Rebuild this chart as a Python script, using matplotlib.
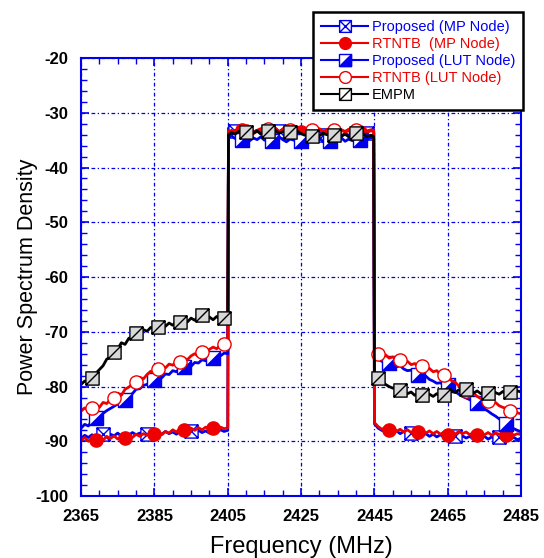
import numpy as np
import matplotlib.pyplot as plt
from matplotlib.path import Path
from matplotlib.lines import Line2D

plt.rcParams['font.family'] = 'Liberation Sans'
plt.rcParams['axes.unicode_minus'] = False

# frequency grid (MHz): lower band, in-band, upper band
f_low = np.arange(2365, 2406)
f_in = np.concatenate([[2405.2], np.arange(2406, 2445), [2444.8]])
f_up = np.arange(2445, 2486)
freq = np.concatenate([f_low, f_in, f_up])

# ---------- PSD traces (dB) ----------
empm_low = [-79.6, -79.0, -79.2, -78.4, -77.6, -76.9, -76.2, -75.0, -74.6, -73.6,
            -73.1, -72.0, -72.3, -71.2, -70.9, -70.3, -70.6, -69.6, -69.9, -69.2,
            -69.5, -69.1, -68.7, -69.0, -68.4, -68.8, -68.1, -68.3, -67.7, -68.2,
            -67.5, -67.9, -67.2, -67.0, -67.6, -67.3, -67.8, -67.2, -67.7, -67.4, -67.6]
empm_in = [-34.0, -33.6, -33.9, -33.4, -33.8, -33.5, -34.0, -33.7, -33.3, -33.9,
           -33.6, -33.4, -33.8, -33.2, -33.7, -33.5, -33.1, -33.6, -33.9, -33.4,
           -33.8, -34.1, -33.6, -34.3, -33.9, -34.2, -33.7, -34.0, -33.6, -34.1,
           -33.8, -34.3, -33.9, -34.4, -34.0, -33.7, -34.2, -33.9, -34.4, -34.1, -34.3]
empm_up = [-78.0, -78.4, -79.1, -79.6, -80.0, -80.3, -80.1, -80.6, -80.9, -81.3,
           -81.0, -81.6, -81.2, -81.5, -81.9, -81.4, -81.8, -81.3, -81.7, -81.6,
           -81.2, -80.8, -81.1, -80.6, -80.9, -80.5, -80.9, -81.2, -80.8, -81.3,
           -80.9, -81.2, -80.7, -81.1, -81.4, -80.9, -81.3, -81.0, -81.4, -80.8, -81.0]

rt_lut_low = [-84.5, -83.9, -84.3, -83.9, -83.5, -83.8, -82.9, -83.1, -82.4, -82.0,
              -81.2, -81.6, -80.5, -80.1, -79.6, -79.1, -78.3, -78.6, -77.8, -77.2,
              -77.5, -76.8, -76.2, -76.6, -75.9, -76.1, -75.4, -75.6, -74.8, -75.1,
              -74.4, -74.0, -74.5, -73.6, -73.9, -73.2, -72.8, -73.1, -72.4, -72.2, -72.5]
rt_lut_in = [-33.3, -33.6, -33.2, -33.5, -33.0, -33.4, -33.1, -33.6, -33.2, -32.9,
             -33.3, -33.0, -33.5, -33.1, -33.4, -33.0, -33.3, -33.1, -33.6, -33.2,
             -33.5, -33.0, -33.4, -33.1, -33.3, -32.9, -33.4, -33.1, -33.6, -33.2,
             -33.5, -33.1, -33.4, -33.0, -33.5, -33.2, -33.4, -33.0, -33.3, -33.1, -33.2]
rt_lut_up = [-73.9, -74.0, -74.5, -74.2, -74.8, -74.6, -75.1, -75.2, -75.7, -75.4,
             -76.0, -75.8, -76.4, -76.3, -76.9, -76.7, -77.3, -77.1, -77.8, -77.9,
             -78.4, -78.9, -79.2, -79.9, -80.3, -80.9, -81.4, -81.2, -81.8, -82.2,
             -82.0, -82.7, -83.1, -82.9, -83.5, -83.8, -84.0, -84.4, -84.2, -84.8, -85.0]

pr_lut_low = [-87.6, -86.9, -87.2, -86.2, -85.8, -85.4, -84.9, -84.4, -84.0, -83.6,
              -83.2, -82.6, -82.4, -81.6, -81.3, -80.5, -80.4, -79.8, -79.6, -79.0,
              -78.8, -78.3, -78.4, -77.7, -77.8, -77.1, -77.3, -76.6, -76.4, -76.1,
              -76.3, -75.6, -75.7, -75.1, -75.3, -74.7, -74.8, -74.2, -74.4, -73.9, -74.0]
pr_lut_in = [-33.6, -34.2, -34.7, -34.3, -34.9, -34.5, -35.1, -34.6, -34.9, -34.4,
             -35.0, -34.6, -35.2, -34.7, -34.4, -34.9, -35.3, -34.8, -35.0, -34.5,
             -35.1, -34.7, -35.2, -34.8, -35.0, -34.6, -35.3, -34.9, -35.1, -34.7,
             -35.0, -34.6, -35.2, -34.8, -35.1, -34.7, -35.0, -34.6, -34.9, -34.5, -34.8]
pr_lut_up = [-74.5, -74.9, -75.4, -75.1, -75.7, -75.9, -76.4, -76.2, -76.8, -77.1,
             -77.0, -77.6, -77.9, -78.3, -78.1, -78.7, -79.0, -79.4, -79.3, -79.8,
             -79.7, -80.5, -80.9, -81.4, -81.8, -82.1, -82.4, -82.9, -83.0, -83.6,
             -84.1, -84.5, -85.0, -85.4, -85.9, -86.4, -86.9, -87.3, -87.7, -88.0, -88.3]

pr_mp_low = [-89.5, -88.9, -89.3, -88.8, -89.4, -88.9, -88.6, -89.2, -88.7, -89.0,
             -88.5, -89.1, -88.6, -88.9, -88.4, -88.8, -88.5, -89.0, -88.6, -88.3,
             -88.8, -88.4, -88.7, -88.2, -88.6, -88.3, -88.7, -88.2, -88.5, -88.1,
             -88.2, -88.6, -88.0, -88.4, -88.1, -88.5, -88.0, -88.3, -87.9, -88.2, -88.0]
pr_mp_in = [-32.8, -33.0, -33.4, -33.1, -33.6, -33.3, -33.8, -33.5, -33.2, -33.7,
            -33.4, -33.9, -33.5, -33.8, -33.3, -33.6, -34.0, -33.6, -33.9, -33.5,
            -34.1, -33.7, -34.0, -33.6, -34.2, -33.8, -34.1, -33.7, -34.0, -33.6,
            -33.9, -34.2, -33.8, -34.1, -33.7, -34.0, -33.8, -34.1, -33.7, -33.5, -33.6]
pr_mp_up = [-86.8, -87.6, -88.0, -88.3, -87.9, -88.4, -88.1, -88.6, -88.2, -88.7,
            -88.4, -88.9, -88.5, -89.0, -88.6, -89.1, -88.7, -89.2, -88.8, -89.3,
            -88.9, -89.4, -89.1, -89.5, -89.0, -89.4, -89.1, -89.6, -89.2, -89.5,
            -89.1, -89.6, -89.2, -89.5, -89.3, -89.7, -89.2, -89.6, -89.3, -89.7, -89.4]

rt_mp_low = [-89.8, -89.3, -90.0, -89.4, -89.7, -89.2, -89.8, -89.1, -89.5, -89.0,
             -89.6, -89.1, -89.4, -88.9, -89.3, -88.7, -89.1, -88.6, -88.9, -88.4,
             -88.6, -88.3, -88.8, -88.2, -88.5, -87.9, -88.3, -87.7, -87.9, -88.2,
             -87.6, -88.0, -87.5, -87.9, -87.4, -87.8, -87.5, -87.9, -87.4, -87.7, -87.5]
rt_mp_in = [-33.5, -33.2, -33.7, -33.4, -33.1, -33.6, -33.3, -33.8, -33.4, -33.0,
            -33.5, -33.2, -33.7, -33.3, -33.6, -33.1, -33.5, -33.2, -33.8, -33.4,
            -33.6, -33.2, -33.7, -33.3, -33.5, -33.1, -33.6, -33.3, -33.8, -33.4,
            -33.6, -33.2, -33.5, -33.3, -33.7, -33.4, -33.6, -33.2, -33.5, -33.3, -33.4]
rt_mp_up = [-86.6, -87.3, -87.8, -87.5, -88.0, -87.7, -88.2, -87.8, -88.3, -87.9,
            -88.4, -88.0, -88.3, -87.9, -88.5, -88.1, -88.6, -88.2, -88.7, -88.3,
            -88.8, -88.4, -88.7, -88.2, -88.6, -88.3, -88.8, -88.4, -88.9, -88.5,
            -88.8, -88.4, -88.9, -88.5, -88.7, -88.6, -88.9, -88.5, -88.9, -88.6, -88.8]

# marker frequencies for each trace
mk_empm = [2368, 2374, 2380, 2386, 2392, 2398, 2404, 2410, 2416, 2422, 2428, 2434,
           2440, 2446, 2452, 2458, 2464, 2470, 2476, 2482]
mk_rt_lut = mk_empm
mk_pr_mp = [2371, 2383, 2395, 2407, 2419, 2431, 2443, 2455, 2467, 2479]
mk_lut8 = [2369, 2377, 2385, 2393, 2401, 2409, 2417, 2425, 2433, 2441, 2449, 2457,
           2465, 2473, 2481]

labels = ['Proposed (MP Node)', 'RTNTB  (MP Node)', 'Proposed (LUT Node)',
          'RTNTB (LUT Node)', 'EMPM']

# ---------- custom markers ----------
sq = [(-1, -1), (1, -1), (1, 1), (-1, 1), (-1, -1)]
sq_codes = [Path.MOVETO, Path.LINETO, Path.LINETO, Path.LINETO, Path.CLOSEPOLY]
box_x = Path(sq + [(-1, -1), (1, 1), (-1, 1), (1, -1)],
             sq_codes + [Path.MOVETO, Path.LINETO, Path.MOVETO, Path.LINETO])
box_slash = Path(sq + [(-1, -1), (1, 1)], sq_codes + [Path.MOVETO, Path.LINETO])
half_tri = Path([(-1, -1), (1, -1), (1, 1), (-1, -1)],
                [Path.MOVETO, Path.LINETO, Path.LINETO, Path.CLOSEPOLY])
box_only = Path(sq, sq_codes)

BLUE = '#0000ee'
RED = '#ee0000'


def idx(marks):
    return [int(np.argmin(np.abs(freq - m))) for m in marks]


fig = plt.figure(figsize=(5.44, 5.58), dpi=100)
ax = fig.add_axes([0.149, 0.111, 0.809, 0.785])

lw = 2.0
ms = 9.5

ax.plot(freq, pr_mp_low + pr_mp_in + pr_mp_up, color=BLUE, lw=lw,
        marker=box_x, ms=ms, mfc='white', mec=BLUE, mew=1.0,
        markevery=idx(mk_pr_mp))
ax.plot(freq, rt_mp_low + rt_mp_in + rt_mp_up, color=RED, lw=lw,
        marker='o', ms=ms, mfc=RED, mec=RED,
        markevery=idx(mk_lut8))
pr_lut = pr_lut_low + pr_lut_in + pr_lut_up
ax.plot(freq, pr_lut, color=BLUE, lw=lw,
        marker=box_only, ms=ms, mfc='white', mec=BLUE, mew=1.0,
        markevery=idx(mk_lut8))
ax.plot(freq[idx(mk_lut8)], np.array(pr_lut)[idx(mk_lut8)], ls='none',
        marker=half_tri, ms=ms, mfc=BLUE, mec=BLUE, mew=0.5)
ax.plot(freq, rt_lut_low + rt_lut_in + rt_lut_up, color=RED, lw=lw,
        marker='o', ms=ms, mfc='white', mec=RED, mew=1.0,
        markevery=idx(mk_rt_lut))
ax.plot(freq, empm_low + empm_in + empm_up, color='black', lw=lw,
        marker=box_slash, ms=ms, mfc='#d8d8d8', mec='black', mew=1.0,
        markevery=idx(mk_empm))

# legend handles (proposed LUT uses the composite half-filled square)
lms = 8.5
h_pr_mp = Line2D([], [], color=BLUE, lw=1.5, marker=box_x, ms=lms, mfc='white', mec=BLUE)
h_rt_mp = Line2D([], [], color=RED, lw=1.5, marker='o', ms=lms, mfc=RED, mec=RED)
h_pr_lut_a = Line2D([], [], color=BLUE, lw=1.5, marker=box_only, ms=lms, mfc='white', mec=BLUE)
h_pr_lut_b = Line2D([], [], ls='none', marker=half_tri, ms=lms, mfc=BLUE, mec=BLUE)
h_rt_lut = Line2D([], [], color=RED, lw=1.5, marker='o', ms=lms, mfc='white', mec=RED)
h_empm = Line2D([], [], color='black', lw=1.5, marker=box_slash, ms=lms, mfc='white', mec='black')

leg = fig.legend([h_pr_mp, h_rt_mp, (h_pr_lut_a, h_pr_lut_b), h_rt_lut, h_empm], labels,
                 loc='upper right', bbox_to_anchor=(523 / 544, 1 - 12 / 558),
                 borderaxespad=0, fancybox=False, framealpha=1, fontsize=10.5,
                 handlelength=3.2, handletextpad=0.25, labelspacing=0.2,
                 borderpad=0.55)
leg.get_frame().set_edgecolor('black')
leg.get_frame().set_linewidth(1.8)
for txt, c in zip(leg.get_texts(), [BLUE, RED, BLUE, RED, 'black']):
    txt.set_color(c)

# axes styling
ax.set_xlim(2365, 2485)
ax.set_ylim(-100, -20)
ax.set_xticks(np.arange(2365, 2486, 20))
ax.set_xticks(np.arange(2365, 2486, 5), minor=True)
ax.set_yticks(np.arange(-100, -19, 10))
ax.set_yticks(np.arange(-100, -19, 2), minor=True)
ax.grid(True, which='major', color=BLUE, linestyle=(0, (3, 2, 1, 2)), linewidth=0.9)

for spine in ax.spines.values():
    spine.set_color(BLUE)
    spine.set_linewidth(1.5)
ax.tick_params(which='both', direction='in', colors=BLUE, top=True, right=True,
               labelcolor='black', labelsize=12, pad=9)
ax.tick_params(which='major', length=6, width=1.2)
ax.tick_params(which='minor', length=4, width=1.0)
for lab in ax.get_xticklabels() + ax.get_yticklabels():
    lab.set_fontweight('bold')

ax.set_xlabel('Frequency (MHz)', fontsize=17, labelpad=9)
ax.set_ylabel('Power Spectrum Density', fontsize=15.5, labelpad=-2)

fig.savefig('out.png', dpi=100)
